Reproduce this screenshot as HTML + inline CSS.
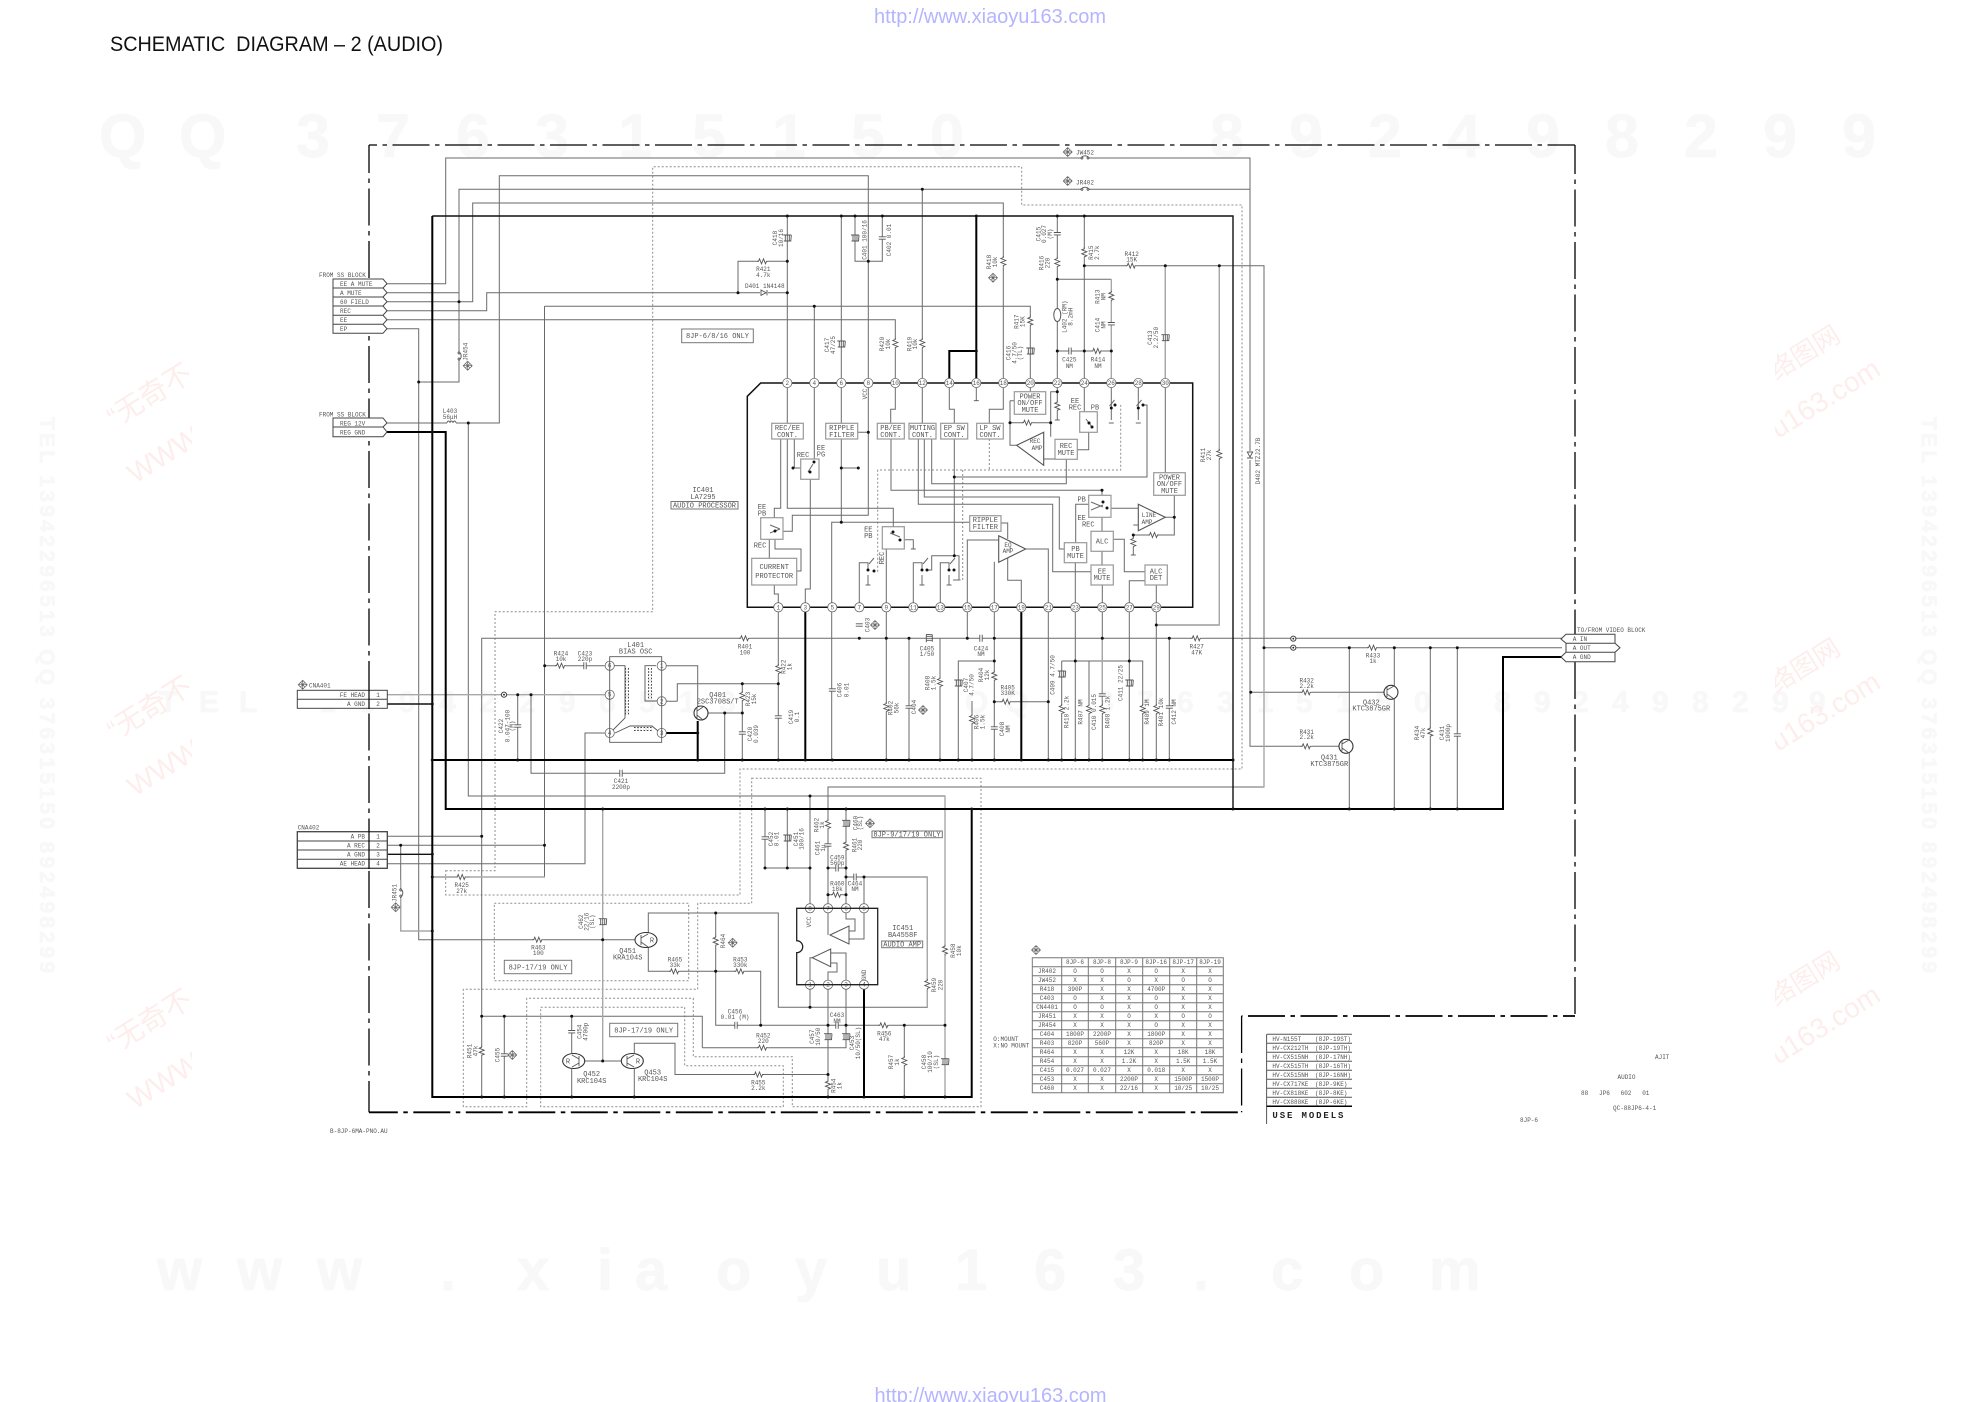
<!DOCTYPE html>
<html><head><meta charset="utf-8"><title>Schematic Diagram - 2 (Audio)</title>
<style>
html,body{margin:0;padding:0;background:#fff}
svg{display:block}
text{font-family:"Liberation Mono","Noto Sans CJK SC",monospace;fill:#555;stroke:none;font-size:6px}
.m text,text.m{font-size:7px}
.c text,text.c{text-anchor:middle}
.wm{font-family:"Liberation Sans",sans-serif;font-weight:bold;fill:#f8f8f8;stroke:#f8f8f8;stroke-width:.8}
.st{font-family:"Liberation Sans","Noto Sans CJK SC",sans-serif;fill:#fdeeec}
.url{font-family:"Liberation Sans",sans-serif;fill:#b4b4ff;font-size:20px}
.w{fill:none;stroke:#6a6a6a;stroke-width:1}
.l{fill:none;stroke:#a8a8a8;stroke-width:1.4}
.k{fill:none;stroke:#000;stroke-width:2}
.k1{fill:none;stroke:#111;stroke-width:1.4}
.d{fill:none;stroke:#8c8c8c;stroke-width:1;stroke-dasharray:2 2}
.b{fill:#fff;stroke:#999;stroke-width:1.2}
.bw{fill:none;stroke:#777;stroke-width:1}
.dots{fill:none;stroke:#111;stroke-width:3;stroke-linecap:round}
.sym{fill:none;stroke:#555;stroke-width:.9}
.gap{fill:none;stroke:#fff;stroke-width:3}
.fr{fill:none;stroke:#000;stroke-dasharray:37 5.5 4.5 5.5}
</style></head><body>
<svg xmlns="http://www.w3.org/2000/svg" width="1980" height="1402" viewBox="0 0 1980 1402">
<defs>
<g id="rh"><path class="gap" d="M-5 0H5"/><path class="sym" d="M-6 0h1.5l1-2.5 2 5 2-5 2 5 1-2.5h1.5"/></g>
<g id="rv"><path class="gap" d="M0-5V5"/><path class="sym" d="M0-6v1.5l-2.5 1 5 2-5 2 5 2-2.5 1v1.5"/></g>
<g id="cv"><path class="gap" d="M0-1V1"/><path class="sym" d="M-3.5-1.2h7M-3.5 1.2h7" stroke-width="1.1"/></g>
<g id="ch"><path class="gap" d="M-1 0H1"/><path class="sym" d="M-1.2-3.5v7M1.2-3.5v7" stroke-width="1.1"/></g>
<g id="ev"><path class="gap" d="M0-3V3"/><path class="sym" d="M-4-3h8M-3.5 3h7l.5-6M-2-3v6M0-3v6M2-3v6"/></g>
<g id="jh"><path class="gap" d="M-4 0H4"/><path class="sym" d="M-5 0h1M4 0h1"/><circle class="sym" cx="-3" r="1"/><circle class="sym" cx="3" r="1"/><path class="sym" d="M-3-1.3Q0-3 3-1.3"/></g>
<g id="s"><path fill="none" stroke="#666" stroke-width=".7" d="M0-4.5L4.5 0L0 4.5L-4.5 0ZM-2.3-2.3L2.3 2.3M2.3-2.3L-2.3 2.3M0-4.5V4.5M-4.5 0H4.5M-1.5-3.5L1.5-3.5M-1.5 3.5L1.5 3.5M-3.5-1.5V1.5M3.5-1.5V1.5"/></g>
<g id="gnd"><path class="sym" d="M-2.5 0h5" stroke-width="1.4"/></g>
<clipPath id="cl"><rect x="0" y="300" width="192" height="900"/></clipPath>
<clipPath id="cr"><rect x="1775" y="200" width="205" height="1000"/></clipPath>
</defs>

<!-- background watermarks -->
<text class="wm" style="font-size:61px" y="157" x="99 179 296 376 456 535 618 692 772 851 930">QQ376315150</text>
<text class="wm" style="font-size:61px" y="157" x="1210 1289 1368 1447 1526 1605 1684 1763 1842">892498299</text>
<text class="wm" style="font-size:30px" y="712" x="159 199 239 319 359 399 439 479 519 559 599 639 679 719 965 1005 1097 1137 1177 1217 1257 1296 1336 1375 1414 1494 1534 1572 1612 1652 1692 1732 1772 1809">TEL13942296513QQ376315150892498299</text>
<text class="wm" style="font-size:58px" y="1290" x="157 237 317 440 517 597 635 716 795 876 955 1034 1113 1193 1271 1349 1429">www.xiaoyu163.com</text>
<text class="wm" style="font-size:21px" transform="translate(40,417)rotate(90)" textLength="556">TEL 13942296513 QQ 376315150 892498299</text>
<text class="wm" style="font-size:21px" transform="translate(1922,417)rotate(90)" textLength="556">TEL 13942296513 QQ 376315150 892498299</text>
<g clip-path="url(#cl)">
<text class="st" style="font-size:28px" transform="translate(115,428)rotate(-32)">“无奇不</text><text class="st" style="font-size:28px" transform="translate(135,484)rotate(-32)">WWW</text>
<text class="st" style="font-size:28px" transform="translate(115,741)rotate(-32)">“无奇不</text><text class="st" style="font-size:28px" transform="translate(135,797)rotate(-32)">WWW</text>
<text class="st" style="font-size:28px" transform="translate(115,1054)rotate(-32)">“无奇不</text><text class="st" style="font-size:28px" transform="translate(135,1110)rotate(-32)">WWW</text>
</g>
<g clip-path="url(#cr)">
<text class="st" style="font-size:26px" transform="translate(1776,381)rotate(-32)">络图网</text><text class="st" style="font-size:28px" transform="translate(1778,439)rotate(-32)">u163.com</text>
<text class="st" style="font-size:26px" transform="translate(1776,694)rotate(-32)">络图网</text><text class="st" style="font-size:28px" transform="translate(1778,752)rotate(-32)">u163.com</text>
<text class="st" style="font-size:26px" transform="translate(1776,1007)rotate(-32)">络图网</text><text class="st" style="font-size:28px" transform="translate(1778,1065)rotate(-32)">u163.com</text>
</g>

<!-- header -->
<text x="874" y="23" class="url" textLength="232">http://www.xiaoyu163.com</text>
<text x="874.5" y="1402" class="url" textLength="232">http://www.xiaoyu163.com</text>
<text x="110" y="51" style="font-family:'Liberation Sans',sans-serif;font-size:21px;fill:#111" textLength="333" lengthAdjust="spacingAndGlyphs" xml:space="preserve">SCHEMATIC  DIAGRAM – 2 (AUDIO)</text>

<!-- outer frame -->
<path class="fr" stroke-width="1.3" stroke-dashoffset="29" d="M369 145H1575"/>
<path class="fr" stroke-width="1.3" stroke-dashoffset="8" d="M1575 145V1016"/>
<path class="fr" stroke-width="1.7" stroke-dashoffset="25" d="M1575 1016H1241.6"/>
<path class="fr" stroke-width="1.3" d="M1241.6 1016V1112.3"/>
<path class="fr" stroke-width="1.8" stroke-dashoffset="48.7" d="M1241.6 1112.3H369"/>
<path class="fr" stroke-width="1.3" stroke-dashoffset="9" d="M369 145V1112.3"/>

<!-- dashed option regions -->
<path class="d" d="M445.7 870.7H495V611.7H652.7V166.7H1021.7V205H1242V769H740V895H445.7Z"/>
<path class="d" d="M751.7 778.3H981V1106.7H792.3V1056.7H693.3V998.3H526.7V1106.7H463.3V989.3H697.7V903.3H751.7Z"/>
<path class="d" d="M540.7 1007.3H684.7V1065.7H783.3V1106.7H540.7Z"/>
<path class="d" d="M494.3 903.3H688.7V980.7H494.3Z"/>
<path class="d" d="M989.3 439V470M877.7 571.7V470H1120.7V405M962.7 470V580H955"/>

<!-- thin wires -->
<path class="w" d="M387 283.7H445.7V158H1250V746.3H1339M387 292.7H459V189.3H1250M459 292.7V382H418.7M387 328.7H418.7V939.7H635M387 301.7H472.7V203H1003.3V409.3H989.3V423M387 310.7H486.7V292.7H787.3M387 319.7H895.3V409.3H890.7V423.3M544.5 306.3H1030.3V391.7M544.5 306.3V877H432.3M814.3 306.3V462L810.3 472V589H805.3V607M387 423H499.3V175.7H868.3V515.3H792.3V531.3H775M468.3 423V796H945V1097M787.3 216V423.3M738 292.7V261.3H787.3M841.3 216V423.3M841.3 439V522.3M855 216V261.3H882.3V216M922.3 189.3V423.3M841.3 468H858.3M868.3 432.3H857.7M1057.3 216V391.7H1050.7V436.7M1084.3 216V411.7M1057.3 279.3H1111.3M1084.3 265.7H1264V787H828V868M1165.3 265.7V472.7M1219.3 265.7V625H1156.3M1057.3 351H1111.3M1057.3 391.7V420M949.3 383V409.3H954.3V423M954.3 439V555.7H931.7V570H926M954.3 555.7H959V580H953M954.3 477H1147V405H1143M976.3 383V400.7M1010 422.7H1050.7M1010 400.7H1014.3M1010 400.7V445.3H1016.7M1043.7 459H1055M1077.3 449.7H1088.7V432M1111.3 383V420M1138.3 383V420M1174.3 495.3V535H1133.3V555M1133.3 525H1138.3M1107 508.3H1138.3M1165.3 517.3H1174.3"/>
<path class="w" d="M891 439V490.3H1102V495.3M918.3 439V504.3H1052.7V571.7H1091M924.3 439V497H1059.3V549H1064.3M931.7 439V483.7H1066.3V459.3M1088.7 504.3H1075.7V542.7M1102 517.3V531.3M1102 551.3V565M1102.3 585V760M1075.3 562.7V760M1113.3 539.3H1124.3V571.7H1145M1156.3 585V760M1145 580.7H1129.3V760M1025.7 549H1048.3V760M998.7 540H967.3V638.3M1007.7 558V580.3H1021.3V607M994.3 561.7V760M1001 523H1007.7V539M969.7 522.3H831.7V760M780.7 439V508.3H774.3V517.7M787.3 439V508.3H893.3V532M794.3 439V468H800.7M769.3 539.3V558.3M775 539.3V549H801V571H796.7M774.3 585V594H778.3V760M886.3 549V760M859.3 607V562.7H868V570M913.3 607V562.7H922V570M940.3 607V562.7H949V570M904 539.7H913.3V549M868 575V585M922 575V585M949 575V585"/>
<path class="w" d="M481.7 1097V638.3H1562M387 836.3H481.7M387 845.3H544.5M387 863.7H585V733H604.9M400.7 845.3V931H432.3M517.7 694.7V760M531 694.7V773.3H724.7V713H701M724.7 713H742.3M742.3 683.7V760M677.3 701.3V683.7H778.3M677.3 701.3H666.5M666.5 665.7H697.7V708M544.7 665.7H604.9M909 638.3V760M940 638.3V760M994.3 661H958.3V760M994.3 701.7H1048.3M1061.7 661H1142.7V760M1061.7 661V760M1089 661V760M1169.3 638.3V760M1250.7 692.3H1384M1264 647.7H1562M1349.3 647.7V809M1394.3 647.7V809M1430.3 647.7V809M1457.3 647.7V809M972 701V760M648.3 933V913H778.3V1007.3H927.3V877H846M648.3 947V971.3H760.7V1025.3M715.7 913V1025.3H760.7M760.7 1025.3H945M702.3 1047.7H846V984.7M702.3 1047.7V1016.3H481.7M571.7 1016.3V1053M571.7 1069V1097M504.3 1016.3V1097M634.3 1053V1043.3H675V1074.5H828M634.3 1069V1097M585 1061H621M810 796V908.3M810 1007.3V984.7M828 908.3V868H846M846 809V908.3M864 877V908.3M828 984.7V1097M904.3 1025.3V1097M765 809V868H810M787.3 809V868M828 894.7H846M828 935V908.3M846 908.3V919H855V931H849M864 908.3V939H849M810 984.7V957.7H812.3M846 984.7V953H830.7M828 984.7V972H837V963H830.7"/>
<!-- lighter wires -->
<path class="l" d="M387 694.7H604.9M1111.3 279.3V383M1165.3 265.7V383M1219.3 265.7V625M602.7 809V1061M400.7 880V931H432.3M1264 787V647.7M927.3 877V1007M945 796V1097M544.7 877H470M1102.3 638V700"/>

<!-- heavy rails -->
<path class="k1" d="M432.3 216H1233V809M387 854.3H432.3M387 704H432.3"/>
<path class="k" d="M432.3 216V1097H971.7V809M432.3 760H1233M387 432H445.7V809H1503V657H1562M949.3 383V351H976.3M976.3 216V383M805.3 607V760M1021.3 607V760M864 984.7V1097M661.7 733H697.7M697.7 721V760"/>

<!-- component symbols -->
<g>
<use href="#rh" x="763" y="261.3"/><use href="#rh" x="1131.7" y="265.7"/><use href="#rh" x="1097.3" y="351"/><use href="#rh" x="1028" y="422.7"/><use href="#rh" x="1154" y="535"/><use href="#rh" x="745" y="638.3"/><use href="#rh" x="1196.7" y="638.3"/><use href="#rh" x="561" y="665.7"/><use href="#rh" x="461.7" y="877"/><use href="#rh" x="1006.7" y="701.7"/><use href="#rh" x="1373" y="647.7"/><use href="#rh" x="1306.7" y="692.3"/><use href="#rh" x="1306.7" y="746.3"/><use href="#rh" x="538.3" y="939.7"/><use href="#rh" x="675" y="971.3"/><use href="#rh" x="740.3" y="971.3"/><use href="#rh" x="763" y="1047.7"/><use href="#rh" x="759" y="1074.5"/><use href="#rh" x="884.3" y="1025.3"/><use href="#rh" x="837" y="894.7"/>
<use href="#rv" x="895.3" y="344"/><use href="#rv" x="922.3" y="344"/><use href="#rv" x="1003.3" y="262"/><use href="#rv" x="1030.3" y="321.7"/><use href="#rv" x="1057.3" y="263"/><use href="#rv" x="1084.3" y="253.3"/><use href="#rv" x="1111.3" y="296.7"/><use href="#rv" x="1219.3" y="455"/><use href="#rv" x="1057.3" y="406.7"/><use href="#rv" x="1133.3" y="543"/><use href="#rv" x="778.3" y="670"/><use href="#rv" x="742.3" y="697"/><use href="#rv" x="940" y="683"/><use href="#rv" x="994.3" y="676.7"/><use href="#rv" x="886.3" y="708"/><use href="#rv" x="972" y="720"/><use href="#rv" x="1061.7" y="710"/><use href="#rv" x="1089" y="710"/><use href="#rv" x="1102.3" y="710"/><use href="#rv" x="1142.7" y="710"/><use href="#rv" x="1156.3" y="710"/><use href="#rv" x="1430.3" y="732.7"/><use href="#rv" x="715.7" y="941.7"/><use href="#rv" x="481.7" y="1051.7"/><use href="#rv" x="828" y="825"/><use href="#rv" x="846" y="846.7"/><use href="#rv" x="945" y="950.7"/><use href="#rv" x="927.3" y="985"/><use href="#rv" x="904.3" y="1062"/><use href="#rv" x="828" y="1085.7"/>
<use href="#cv" x="882.3" y="238"/><use href="#cv" x="1057.3" y="233.7"/><use href="#cv" x="1111.3" y="323.7"/><use href="#cv" x="859.3" y="625"/><use href="#cv" x="832.3" y="690"/><use href="#cv" x="909" y="707"/><use href="#cv" x="778.3" y="717"/><use href="#cv" x="742.3" y="733"/><use href="#cv" x="517.7" y="726"/><use href="#cv" x="994.3" y="728"/><use href="#cv" x="1102.3" y="695"/><use href="#cv" x="1169.3" y="707"/><use href="#cv" x="1457.3" y="735"/><use href="#cv" x="571.7" y="1031.7"/><use href="#cv" x="504.3" y="1055"/><use href="#cv" x="765" y="838"/><use href="#cv" x="828" y="845"/>
<use href="#ch" x="1070" y="351"/><use href="#ch" x="981" y="638.3"/><use href="#ch" x="585" y="665.7"/><use href="#ch" x="621" y="773.3"/><use href="#ch" x="736" y="1025.3"/><use href="#ch" x="837" y="868"/><use href="#ch" x="855" y="877"/><use href="#ch" x="837" y="1025.3"/>
<use href="#ev" x="787.3" y="238"/><use href="#ev" x="855" y="238"/><use href="#ev" x="841.3" y="344"/><use href="#ev" x="1030.3" y="351"/><use href="#ev" x="1165.3" y="337.7"/><use href="#ev" x="958.3" y="683"/><use href="#ev" x="1061.7" y="674"/><use href="#ev" x="1129.3" y="683"/><use href="#ev" x="602.7" y="921.7"/><use href="#ev" x="787.3" y="838"/><use href="#ev" x="846" y="823.3"/><use href="#ev" x="828" y="1036.7"/><use href="#ev" x="846" y="1036.7"/><use href="#ev" x="945" y="1061.7"/>
<g transform="translate(929.3,638.3)rotate(-90)"><use href="#ev"/></g>
<use href="#jh" x="1085" y="158"/><use href="#jh" x="1085" y="189.3"/>
<g transform="translate(459,356)rotate(90)"><use href="#jh"/></g><g transform="translate(400.7,893)rotate(90)"><use href="#jh"/></g>
<!-- diodes / coils -->
<path class="gap" d="M760 292.7H768"/><path class="sym" d="M761 290v5.4l5-2.7zM767 290v5.4" fill="#333"/>
<path class="gap" d="M1250 451V460"/><path class="sym" d="M1247.3 452h5.4l-2.7 5zM1247 458h6" fill="#333"/>
<ellipse cx="1057.3" cy="315" rx="3.5" ry="6.5" fill="#fff" stroke="#555"/>
<path class="gap" d="M447 423H456"/><path class="sym" d="M447 423a1.5 2 0 0 1 3 0a1.5 2 0 0 1 3 0a1.5 2 0 0 1 3 0"/>
<circle cx="504" cy="694.7" r="2.6" fill="#fff" stroke="#444"/><circle cx="504" cy="694.7" r=".9" fill="#222"/><circle cx="1293.3" cy="638.7" r="2.6" fill="#fff" stroke="#444"/><circle cx="1293.3" cy="638.7" r=".9" fill="#222"/><circle cx="1293.3" cy="647.7" r="2.6" fill="#fff" stroke="#444"/><circle cx="1293.3" cy="647.7" r=".9" fill="#222"/>
<use href="#s" x="467.7" y="365.7"/><use href="#s" x="1067.7" y="152"/><use href="#s" x="1067.7" y="181"/><use href="#s" x="993" y="277.7"/><use href="#s" x="875" y="625"/><use href="#s" x="923" y="710"/><use href="#s" x="302.7" y="684.7"/><use href="#s" x="395.7" y="907.3"/><use href="#s" x="732.7" y="942.7"/><use href="#s" x="512.3" y="1055"/><use href="#s" x="870" y="823.3"/><use href="#s" x="1036" y="950"/>
</g>

<!-- IC401 body -->
<path d="M747.3 396.3L760.7 383H1192.7V607.3H747.3Z" fill="none" stroke="#111" stroke-width="1.5"/>
<g class="b">
<rect class="b" x="771.7" y="423.3" width="31.6" height="15.7"/><rect class="b" x="825.7" y="423.3" width="32" height="15.7"/><rect class="b" x="877.3" y="423.3" width="27" height="15.7"/><rect class="b" x="909" y="423.3" width="27" height="15.7"/><rect class="b" x="940.7" y="423.3" width="27" height="15.7"/><rect class="b" x="976.7" y="423.3" width="26.6" height="15.7"/>
<rect class="b" x="1014.3" y="391.7" width="31.4" height="22.6"/><rect class="b" x="1055" y="439.3" width="22.3" height="20"/><rect class="b" x="1079.7" y="411.7" width="17.6" height="20.6"/><rect class="b" x="800.7" y="459" width="18.3" height="20.3"/><rect class="b" x="1153.7" y="472.7" width="31.6" height="22.6"/><rect class="b" x="1088.7" y="495.3" width="22.3" height="22"/><rect class="b" x="969.7" y="515.7" width="31.3" height="15.6"/><rect class="b" x="1091" y="531.3" width="22.3" height="20"/><rect class="b" x="1064.3" y="542.7" width="22.4" height="20"/><rect class="b" x="1091" y="565" width="22.3" height="20"/><rect class="b" x="1145" y="565" width="22.3" height="20"/><rect class="b" x="751.7" y="558.3" width="45" height="26.7"/><rect class="b" x="760.7" y="517.7" width="22.3" height="21.6"/><rect class="b" x="882.3" y="526.7" width="22" height="22.3"/>
</g>
<!-- op amps -->
<path d="M1016.7 445.3L1043.7 432.3V465.3Z" fill="#fff" stroke="#555" stroke-width="1.1"/>
<path d="M1165.3 517.3L1138.3 504.3V530.7Z" fill="#fff" stroke="#555" stroke-width="1.1"/>
<path d="M1025.7 549L998.7 535.7V562.3Z" fill="#fff" stroke="#555" stroke-width="1.1"/>
<!-- switches -->
<path class="w" d="M1114.5 400l-5 6M1141.5 400l-5 6M869 564l5-6M923 564l5-6M950 564l5-6M1086 419l6 8M1103 505l-12 5M1103 507l-12-5M808 472l5-8M770 525l10 4M770 533l10-4M890 533l10 4"/>
<g class="dots" stroke-width="2.4"><path d="M1111.3 408h0M1138.3 408h0M1115 405h0M1143 405h0M868 570h0M922 570h0M949 570h0M874 571h0M927 570h0M954 570h0M1089 423h0M1092 427h0M1107 508h0M1103 502h0M814 462h0M810 472h0M793 468h0M775 531h0M893 532h0M900 540h0"/></g>
<g><use href="#gnd" x="976.3" y="400.7"/><use href="#gnd" x="1057.3" y="420"/><use href="#gnd" x="1111.3" y="423"/><use href="#gnd" x="1138.3" y="423"/><use href="#gnd" x="1133.3" y="555"/><use href="#gnd" x="868" y="585"/><use href="#gnd" x="922" y="585"/><use href="#gnd" x="949" y="585"/><use href="#gnd" x="913.3" y="549"/></g>

<!-- pins -->
<path d="M787.3 383h0M814.3 383h0M841.3 383h0M868.3 383h0M895.3 383h0M922.3 383h0M949.3 383h0M976.3 383h0M1003.3 383h0M1030.3 383h0M1057.3 383h0M1084.3 383h0M1111.3 383h0M1138.3 383h0M1165.3 383h0M778.3 607.3h0M805.3 607.3h0M832.3 607.3h0M859.3 607.3h0M886.3 607.3h0M913.3 607.3h0M940.3 607.3h0M967.3 607.3h0M994.3 607.3h0M1021.3 607.3h0M1048.3 607.3h0M1075.3 607.3h0M1102.3 607.3h0M1129.3 607.3h0M1156.3 607.3h0M609.7 665.7h0M609.7 694.7h0M609.7 733h0M661.7 665.7h0M661.7 701.3h0M661.7 733h0M810 908.3h0M828 908.3h0M846 908.3h0M864 908.3h0M810 984.7h0M828 984.7h0M846 984.7h0M864 984.7h0" fill="none" stroke="#666" stroke-width="10" stroke-linecap="round"/>
<path d="M787.3 383h0M814.3 383h0M841.3 383h0M868.3 383h0M895.3 383h0M922.3 383h0M949.3 383h0M976.3 383h0M1003.3 383h0M1030.3 383h0M1057.3 383h0M1084.3 383h0M1111.3 383h0M1138.3 383h0M1165.3 383h0M778.3 607.3h0M805.3 607.3h0M832.3 607.3h0M859.3 607.3h0M886.3 607.3h0M913.3 607.3h0M940.3 607.3h0M967.3 607.3h0M994.3 607.3h0M1021.3 607.3h0M1048.3 607.3h0M1075.3 607.3h0M1102.3 607.3h0M1129.3 607.3h0M1156.3 607.3h0M609.7 665.7h0M609.7 694.7h0M609.7 733h0M661.7 665.7h0M661.7 701.3h0M661.7 733h0M810 908.3h0M828 908.3h0M846 908.3h0M864 908.3h0M810 984.7h0M828 984.7h0M846 984.7h0M864 984.7h0" fill="none" stroke="#fff" stroke-width="8.4" stroke-linecap="round"/>
<g class="c">
<text x="787.3" y="385">2</text><text x="814.3" y="385">4</text><text x="841.3" y="385">6</text><text x="868.3" y="385">8</text><text x="895.3" y="385">10</text><text x="922.3" y="385">12</text><text x="949.3" y="385">14</text><text x="976.3" y="385">16</text><text x="1003.3" y="385">18</text><text x="1030.3" y="385">20</text><text x="1057.3" y="385">22</text><text x="1084.3" y="385">24</text><text x="1111.3" y="385">26</text><text x="1138.3" y="385">28</text><text x="1165.3" y="385">30</text>
<text x="778.3" y="609.3">1</text><text x="805.3" y="609.3">3</text><text x="832.3" y="609.3">5</text><text x="859.3" y="609.3">7</text><text x="886.3" y="609.3">9</text><text x="913.3" y="609.3">11</text><text x="940.3" y="609.3">13</text><text x="967.3" y="609.3">15</text><text x="994.3" y="609.3">17</text><text x="1021.3" y="609.3">19</text><text x="1048.3" y="609.3">21</text><text x="1075.3" y="609.3">23</text><text x="1102.3" y="609.3">25</text><text x="1129.3" y="609.3">27</text><text x="1156.3" y="609.3">29</text>
<text x="609.7" y="667.7">6</text><text x="609.7" y="696.7">5</text><text x="609.7" y="735">4</text><text x="661.7" y="667.7">1</text><text x="661.7" y="703.3">2</text><text x="661.7" y="735">3</text>
<text x="810" y="910.3">8</text><text x="828" y="910.3">7</text><text x="846" y="910.3">6</text><text x="864" y="910.3">5</text><text x="810" y="986.7">1</text><text x="828" y="986.7">2</text><text x="846" y="986.7">3</text><text x="864" y="986.7">4</text>
</g>

<!-- L401 transformer -->
<path class="sym" d="M609.7 661V656.7H661.7V661M609.7 738V742.3H661.7V738M609.7 661V738M661.7 661V738M614 665.7H625V718L613 730M656 665.7H645V701H657M615 733L630 726H652L658 731"/>
<path d="M627 668V716M650 668V699M634 729H652" fill="none" stroke="#444" stroke-width="4" stroke-dasharray="1.6 1.6"/>
<path d="M627 668V716M650 668V699M634 729H652" fill="none" stroke="#fff" stroke-width="2" stroke-dasharray="1.6 1.6"/>

<!-- IC451 -->
<path d="M796.7 940.7V908.3H877.7V984.7H796.7V952.7A6 6 0 0 0 796.7 940.7Z" fill="none" stroke="#222" stroke-width="1.3"/>
<path d="M830 935L849 926V944Z M812.3 957.7L830.7 949V966.7Z" fill="#fff" stroke="#555"/>

<!-- transistors -->
<g fill="#fff" stroke="#333" stroke-width="1.1">
<circle cx="701" cy="713" r="7"/><circle cx="1346" cy="746.3" r="7"/><circle cx="1391" cy="692.3" r="7"/>
<ellipse cx="646" cy="940" rx="11" ry="7.5"/><ellipse cx="573.7" cy="1061" rx="11" ry="7.5"/><ellipse cx="632.3" cy="1061" rx="11" ry="7.5"/>
</g>
<path class="sym" d="M697 708V718M697 711L703 707M697 715L703 720M1342 741V751M1342 744L1349 740M1342 748L1349 753M1387 687V697M1387 690L1394 686M1387 694L1394 699M641 935V945M641 938L648 934M641 942L648 947M579 1056V1066M579 1059L572 1055M579 1063L572 1067M627 1056V1066M627 1059L634 1055M627 1063L634 1067"/>
<g class="m c"><text x="652" y="942.5">R</text><text x="568" y="1063.5">R</text><text x="638" y="1063.5">R</text></g>

<!-- junction dots -->
<path class="dots" d="M432.3 432h0M432.3 704h0M432.3 760h0M432.3 854.3h0M432.3 877h0M432.3 931h0M459 301.7h0M418.7 382h0M468.3 423h0M738 292.7h0M787.3 292.7h0M787.3 261.3h0M787.3 216h0M841.3 216h0M855 216h0M882.3 216h0M868.3 261.3h0M922.3 189.3h0M814.3 306.3h0M976.3 216h0M976.3 351h0M1057.3 216h0M1084.3 216h0M1057.3 279.3h0M1057.3 351h0M1084.3 351h0M1111.3 351h0M1084.3 265.7h0M1165.3 265.7h0M1219.3 265.7h0M1156.3 625h0M859.3 638.3h0M886.3 638.3h0M909 638.3h0M967.3 638.3h0M994.3 638.3h0M1102.3 638.3h0M1169.3 638.3h0M994.3 661h0M994.3 701.7h0M1048.3 701.7h0M1075.3 661h0M1129.3 661h0M1102 490.3h0M954.3 477h0M954.3 555.7h0M868.3 432.3h0M841.3 468h0M858.3 468h0M841.3 522.3h0M1057.3 391.7h0M1050.7 422.7h0M1010 422.7h0M1174.3 517.3h0M1133.3 535h0M1233 760h0M1233 809h0M1349.3 809h0M1394.3 809h0M1430.3 809h0M1457.3 809h0M1349.3 647.7h0M1394.3 647.7h0M1430.3 647.7h0M1457.3 647.7h0M1264 647.7h0M1250.7 692.3h0M517.7 694.7h0M531 694.7h0M517.7 760h0M697.7 733h0M697.7 760h0M742.3 683.7h0M742.3 713h0M724.7 713h0M742.3 760h0M778.3 683.7h0M778.3 760h0M805.3 760h0M832.3 760h0M886.3 760h0M909 760h0M940 760h0M958.3 760h0M972 760h0M994.3 760h0M1021.3 760h0M1048.3 760h0M1061.7 760h0M1075.3 760h0M1089 760h0M1102.3 760h0M1129.3 760h0M1142.7 760h0M1156.3 760h0M1169.3 760h0M544.7 665.7h0M481.7 836.3h0M544.5 845.3h0M400.7 845.3h0M602.7 809h0M765 809h0M787.3 809h0M846 809h0M971.7 809h0M602.7 939.7h0M602.7 1061h0M715.7 913h0M715.7 971.3h0M760.7 1025.3h0M481.7 1016.3h0M504.3 1016.3h0M571.7 1016.3h0M481.7 1097h0M504.3 1097h0M571.7 1097h0M634.3 1097h0M828 1097h0M864 1097h0M904.3 1097h0M945 1097h0M810 796h0M828 868h0M846 868h0M787.3 868h0M765 868h0M810 868h0M846 877h0M864 877h0M828 894.7h0M846 894.7h0M810 1007.3h0M828 1025.3h0M846 1025.3h0M904.3 1025.3h0M945 1025.3h0M828 1074.5h0"/>

<!-- left connectors -->
<g fill="#fff" stroke="#444" stroke-width="1">
<path d="M333 279H383L387 283.7L383 288H333ZM333 288H383L387 292.7L383 297H333ZM333 297H383L387 301.7L383 306H333ZM333 306H383L387 310.7L383 315.3H333ZM333 315.3H383L387 319.7L383 324.3H333ZM333 324.3H383L387 328.7L383 333.3H333ZM333 418H383L387 423L383 427H333ZM333 427H383L387 432L383 436.7H333Z"/>
<rect x="297.3" y="690.3" width="90" height="18"/><path d="M297.3 699.3H387.3"/>
<rect x="297.3" y="831.7" width="90" height="36.6" stroke-width="1.3"/><path d="M297.3 841H387.3M297.3 850H387.3M297.3 859.3H387.3"/>
</g>
<path d="M369 690V709M369 831V869" stroke="#000" stroke-width="1.2"/>
<!-- right connector -->
<g fill="#fff" stroke="#444" stroke-width="1"><path d="M1561 639L1566 634.3H1615V643.3H1566ZM1566 643.3H1615L1620 647.8L1615 652.3H1566ZM1561 657L1566 652.3H1615V661.7H1566Z"/></g>
<g>
<text x="319" y="277">FROM SS BLOCK</text><text x="319" y="416.5">FROM SS BLOCK</text>
<text x="340" y="286">EE A MUTE</text><text x="340" y="295">A MUTE</text><text x="340" y="304">60 FIELD</text><text x="340" y="313">REC</text><text x="340" y="322">EE</text><text x="340" y="331">EP</text><text x="340" y="425.5">REG 12V</text><text x="340" y="434.5">REG GND</text>
<text x="309" y="687.5">CNA401</text><text x="297.7" y="829.5">CNA402</text>
<text x="1577" y="632">TO/FROM VIDEO BLOCK</text><text x="1572.7" y="641">A IN</text><text x="1572.7" y="650">A OUT</text><text x="1572.7" y="659">A GND</text>
</g>
<g>
<text x="365" y="697" text-anchor="end">FE HEAD</text><text x="365" y="706" text-anchor="end">A GND</text><text x="365" y="838.5" text-anchor="end">A PB</text><text x="365" y="847.5" text-anchor="end">A REC</text><text x="365" y="856.5" text-anchor="end">A GND</text><text x="365" y="865.5" text-anchor="end">AE HEAD</text>
</g>
<g class="c"><text x="378" y="697">1</text><text x="378" y="706">2</text><text x="378" y="838.5">1</text><text x="378" y="847.5">2</text><text x="378" y="856.5">3</text><text x="378" y="865.5">4</text></g>

<!-- IC401 labels -->
<g class="m c">
<text x="787.5" y="430">REC/EE</text><text x="787.5" y="437">CONT.</text><text x="841.7" y="430">RIPPLE</text><text x="841.7" y="437">FILTER</text><text x="890.8" y="430">PB/EE</text><text x="890.8" y="437">CONT.</text><text x="922.5" y="430">MUTING</text><text x="922.5" y="437">CONT.</text><text x="954.2" y="430">EP SW</text><text x="954.2" y="437">CONT.</text><text x="990" y="430">LP SW</text><text x="990" y="437">CONT.</text>
<text x="1030" y="398.5">POWER</text><text x="1030" y="405">ON/OFF</text><text x="1030" y="412">MUTE</text>
<text x="1169.5" y="479.5">POWER</text><text x="1169.5" y="486">ON/OFF</text><text x="1169.5" y="493">MUTE</text>
<text x="1066" y="448">REC</text><text x="1066" y="455">MUTE</text><text x="985.3" y="522">RIPPLE</text><text x="985.3" y="529">FILTER</text><text x="1102" y="543.5">ALC</text><text x="1075.5" y="551">PB</text><text x="1075.5" y="558">MUTE</text><text x="1102" y="573.5">EE</text><text x="1102" y="580">MUTE</text><text x="1156" y="573.5">ALC</text><text x="1156" y="580">DET</text>
<text x="774.2" y="569">CURRENT</text><text x="774.2" y="578">PROTECTOR</text>
<text x="762" y="509">EE</text><text x="762" y="515.5">PB</text><text x="760" y="547.5">REC</text><text x="803" y="457">REC</text><text x="821" y="450">EE</text><text x="821" y="456.5">PG</text><text x="1075" y="403">EE</text><text x="1075" y="409.5">REC</text><text x="1095" y="409.5">PB</text><text x="868.3" y="531.5">EE</text><text x="868.3" y="538">PB</text><text x="1081.7" y="501.5">PB</text><text x="1081.7" y="520">EE</text><text x="1088.3" y="526.5">REC</text>
</g>
<g class="c"><text x="1035" y="443">REC</text><text x="1037" y="450">AMP</text><text x="1149" y="517">LINE</text><text x="1147" y="524">AMP</text><text x="1008" y="547">EQ</text><text x="1008" y="553">AMP</text></g>
<text class="m c" transform="translate(884,558)rotate(-90)">REC</text>
<text class="c" transform="translate(867,394)rotate(-90)">VCC</text>
<g class="m c"><text x="703" y="492">IC401</text><text x="703" y="499">LA7295</text><text x="704.5" y="507.5">AUDIO PROCESSOR</text></g>
<rect x="671" y="501.5" width="67" height="7.5" class="bw"/>
<text class="m c" x="717.5" y="338">8JP-6/8/16 ONLY</text><rect x="681.7" y="329" width="71.6" height="13.7" class="bw"/>
<text class="m c" x="538" y="969.5">8JP-17/19 ONLY</text><rect x="504.3" y="960.3" width="67.4" height="13.4" class="bw"/>
<text class="m c" x="643.7" y="1032.5">8JP-17/19 ONLY</text><rect x="609.7" y="1023.3" width="68" height="13.4" class="bw"/>
<text class="m c" x="907" y="836.5">8JP-9/17/19 ONLY</text><rect x="872" y="831" width="70.3" height="6.7" class="bw"/>
<g class="m c"><text x="902.7" y="930">IC451</text><text x="902.7" y="937">BA4558F</text><text x="902.2" y="946.7">AUDIO AMP</text></g><rect x="881.7" y="941" width="41" height="6.7" class="bw"/>

<!-- horizontal component labels -->
<g class="c">
<text x="763.3" y="271">R421</text><text x="763.3" y="277">4.7k</text><text x="450" y="413">L403</text><text x="450" y="419">56μH</text><text x="1131.7" y="256">R412</text><text x="1131.7" y="261.5">15K</text><text x="1069.3" y="361.5">C425</text><text x="1069.3" y="368">NM</text><text x="1098" y="361.5">R414</text><text x="1098" y="368">NM</text>
<text x="745" y="648.7">R401</text><text x="745" y="654.5">100</text><text x="1196.7" y="648.7">R427</text><text x="1196.7" y="654.5">47K</text><text x="927" y="650.3">C405</text><text x="927" y="656">1/50</text><text x="981" y="650.3">C424</text><text x="981" y="656">NM</text><text x="1007.7" y="689.3">R405</text><text x="1007.7" y="695">330K</text>
<text x="561" y="655.5">R424</text><text x="561" y="661">10k</text><text x="585" y="655.5">C423</text><text x="585" y="661">220p</text><text x="621" y="783">C421</text><text x="621" y="789">2200p</text><text x="461.7" y="887">R425</text><text x="461.7" y="893">27k</text>
<text x="1306.7" y="682.7">R432</text><text x="1306.7" y="688">2.2k</text><text x="1306.7" y="734">R431</text><text x="1306.7" y="739">2.2k</text><text x="1373" y="657.7">R433</text><text x="1373" y="663">1k</text>
<text x="538.3" y="949.7">R463</text><text x="538.3" y="955">100</text><text x="675" y="961.3">R465</text><text x="675" y="967">33k</text><text x="740.3" y="961.3">R453</text><text x="740.3" y="967">330k</text><text x="735" y="1013.7">C456</text><text x="735" y="1019">0.01 (M)</text><text x="763.3" y="1037.7">R452</text><text x="763.3" y="1043">220</text><text x="758.3" y="1084.7">R455</text><text x="758.3" y="1090">2.2k</text><text x="884.3" y="1035.3">R456</text><text x="884.3" y="1041">47k</text><text x="837" y="1017">C463</text><text x="837" y="1023">NM</text><text x="837.3" y="859.3">C459</text><text x="837.3" y="865">560p</text><text x="837.3" y="885.7">R460</text><text x="837.3" y="891">18k</text><text x="855" y="885.7">C464</text><text x="855" y="891">NM</text>
</g>
<g class="m c"><text x="635.7" y="647">L401</text><text x="635.7" y="653.7">BIAS OSC</text><text x="717.7" y="697">Q401</text><text x="717.7" y="703.7">2SC3708S/T</text><text x="1329.3" y="759.7">Q431</text><text x="1329.3" y="766">KTC3875GR</text><text x="1371.3" y="704.3">Q432</text><text x="1371.3" y="710.7">KTC3875GR</text><text x="627.7" y="953">Q451</text><text x="627.7" y="959.7">KRA104S</text><text x="591.7" y="1076">Q452</text><text x="591.7" y="1083">KRC104S</text><text x="652.7" y="1074.7">Q453</text><text x="652.7" y="1081">KRC104S</text></g>
<text x="745" y="288">D401 1N4148</text>
<text x="1076" y="154.7">JW452</text><text x="1076" y="184.3">JR402</text>

<!-- rotated labels -->
<g class="c">
<text transform="translate(777,238)rotate(-90)">C418</text><text transform="translate(783,238)rotate(-90)">10/16</text>
<text transform="translate(866.5,240)rotate(-90)">C401 100/16</text><text transform="translate(891,240)rotate(-90)">C402 0.01</text>
<text transform="translate(829,345)rotate(-90)">C417</text><text transform="translate(835,345)rotate(-90)">47/25</text>
<text transform="translate(884,344)rotate(-90)">R420</text><text transform="translate(890,344)rotate(-90)">10k</text>
<text transform="translate(911.5,344)rotate(-90)">R419</text><text transform="translate(917,344)rotate(-90)">10k</text>
<text transform="translate(991,262)rotate(-90)">R418</text><text transform="translate(997,262)rotate(-90)">10k</text>
<text transform="translate(1018.5,321.7)rotate(-90)">R417</text><text transform="translate(1024.5,321.7)rotate(-90)">15K</text>
<text transform="translate(1010.5,353)rotate(-90)">C416</text><text transform="translate(1016.5,353)rotate(-90)">4.7/50</text><text transform="translate(1022,353)rotate(-90)">(TL)</text>
<text transform="translate(1040.5,234)rotate(-90)">C415</text><text transform="translate(1046,234)rotate(-90)">0.027</text><text transform="translate(1052,234)rotate(-90)">(M)</text>
<text transform="translate(1043.5,263)rotate(-90)">R416</text><text transform="translate(1049.5,263)rotate(-90)">220</text>
<text transform="translate(1093,252.7)rotate(-90)">R415</text><text transform="translate(1099,252.7)rotate(-90)">2.7k</text>
<text transform="translate(1066.5,316.7)rotate(-90)">L402 (RM)</text><text transform="translate(1072.5,316.7)rotate(-90)">8.2mH</text>
<text transform="translate(1099.5,296.7)rotate(-90)">R413</text><text transform="translate(1105.5,296.7)rotate(-90)">NM</text>
<text transform="translate(1099.5,325)rotate(-90)">C414</text><text transform="translate(1105.5,325)rotate(-90)">NM</text>
<text transform="translate(1152,337.7)rotate(-90)">C413</text><text transform="translate(1158,337.7)rotate(-90)">2.2/50</text>
<text transform="translate(1205,455)rotate(-90)">R411</text><text transform="translate(1211,455)rotate(-90)">27k</text>
<text transform="translate(1260,461)rotate(-90)">D402 MTZJ2.7B</text>
<text transform="translate(467.5,351.7)rotate(-90)">JR454</text>
<text transform="translate(869.5,625)rotate(-90)">C403</text>
<text transform="translate(785.5,666.7)rotate(-90)">R422</text><text transform="translate(791.5,666.7)rotate(-90)">1k</text>
<text transform="translate(793,717)rotate(-90)">C419</text><text transform="translate(799,717)rotate(-90)">0.1</text>
<text transform="translate(750,699)rotate(-90)">R423</text><text transform="translate(756,699)rotate(-90)">15k</text>
<text transform="translate(752,734)rotate(-90)">C420</text><text transform="translate(758,734)rotate(-90)">0.039</text>
<text transform="translate(503,726)rotate(-90)">C422</text><text transform="translate(509.5,726)rotate(-90)">0.047-100</text><text transform="translate(514,726)rotate(-90)">(M)</text>
<text transform="translate(841.5,690)rotate(-90)">C406</text><text transform="translate(848.5,690)rotate(-90)">0.01</text>
<text transform="translate(892.5,708)rotate(-90)">R402</text><text transform="translate(898.5,708)rotate(-90)">56k</text>
<text transform="translate(916,707)rotate(-90)">C404</text>
<text transform="translate(929.5,683)rotate(-90)">R408</text><text transform="translate(935.5,683)rotate(-90)">1.5k</text>
<text transform="translate(968,685)rotate(-90)">C407</text><text transform="translate(973.5,685)rotate(-90)">4.7/50</text>
<text transform="translate(983,675)rotate(-90)">R404</text><text transform="translate(989,675)rotate(-90)">12k</text>
<text transform="translate(978.5,722)rotate(-90)">R406</text><text transform="translate(984.5,722)rotate(-90)">1.5k</text>
<text transform="translate(1004,729)rotate(-90)">C408</text><text transform="translate(1010,729)rotate(-90)">NM</text>
<text transform="translate(1054.5,675)rotate(-90)">C409 4.7/50</text>
<text transform="translate(1068.5,712)rotate(-90)">R410 2.2k</text><text transform="translate(1082.5,712)rotate(-90)">R407 NM</text><text transform="translate(1096,712)rotate(-90)">C410 0.015</text><text transform="translate(1109.5,712)rotate(-90)">R408 1.2k</text>
<text transform="translate(1122.5,683)rotate(-90)">C411 22/25</text><text transform="translate(1149,712)rotate(-90)">R409 1M</text><text transform="translate(1163,712)rotate(-90)">R401 10k</text><text transform="translate(1176,712)rotate(-90)">C412 NM</text>
<text transform="translate(396.5,893)rotate(-90)">JR451</text>
<text transform="translate(581.5,1031.7)rotate(-90)">C454</text><text transform="translate(587.5,1031.7)rotate(-90)">4700p</text>
<text transform="translate(471.5,1051)rotate(-90)">R451</text><text transform="translate(477.5,1051)rotate(-90)">47k</text>
<text transform="translate(499.5,1055)rotate(-90)">C455</text>
<text transform="translate(583,921.7)rotate(-90)">C462</text><text transform="translate(588.5,921.7)rotate(-90)">22/16</text><text transform="translate(594,921.7)rotate(-90)">(SL)</text>
<text transform="translate(725,941)rotate(-90)">R464</text>
<text transform="translate(773,839)rotate(-90)">C452</text><text transform="translate(778.5,839)rotate(-90)">0.01</text>
<text transform="translate(798,839)rotate(-90)">C451</text><text transform="translate(803.5,839)rotate(-90)">100/16</text>
<text transform="translate(818.5,825)rotate(-90)">R462</text><text transform="translate(824,825)rotate(-90)">1k</text>
<text transform="translate(819.5,848)rotate(-90)">C461</text><text transform="translate(825,848)rotate(-90)">1μ</text>
<text transform="translate(857.5,823)rotate(-90)">C460</text><text transform="translate(862,823)rotate(-90)">(SL)</text>
<text transform="translate(856.5,845)rotate(-90)">R461</text><text transform="translate(862,845)rotate(-90)">220</text>
<text transform="translate(811,922)rotate(-90)">VCC</text>
<text transform="translate(866,975)rotate(-90)">GND</text>
<text transform="translate(955,950.7)rotate(-90)">R458</text><text transform="translate(961,950.7)rotate(-90)">10k</text>
<text transform="translate(936,985)rotate(-90)">R459</text><text transform="translate(942.5,985)rotate(-90)">220</text>
<text transform="translate(814,1036.7)rotate(-90)">C457</text><text transform="translate(820,1036.7)rotate(-90)">10/50</text>
<text transform="translate(854,1043)rotate(-90)">C453</text><text transform="translate(860,1043)rotate(-90)">10/50(SL)</text>
<text transform="translate(893,1062)rotate(-90)">R457</text><text transform="translate(899,1062)rotate(-90)">1k</text>
<text transform="translate(926,1062)rotate(-90)">C458</text><text transform="translate(932,1062)rotate(-90)">100/10</text><text transform="translate(938,1062)rotate(-90)">(SL)</text>
<text transform="translate(835.5,1085.7)rotate(-90)">R454</text><text transform="translate(841.5,1085.7)rotate(-90)">1k</text>
<text transform="translate(1419,733)rotate(-90)">R434</text><text transform="translate(1425,733)rotate(-90)">47k</text>
<text transform="translate(1444,733)rotate(-90)">C431</text><text transform="translate(1450,733)rotate(-90)">1000p</text>
</g>

<!-- parts table -->
<path class="bw" d="M1032.3 957.7H1223.3V1092.7H1032.3ZM1032.3 966.7H1223.3M1032.3 975.7H1223.3M1032.3 984.7H1223.3M1032.3 993.7H1223.3M1032.3 1002.7H1223.3M1032.3 1011.7H1223.3M1032.3 1020.7H1223.3M1032.3 1029.7H1223.3M1032.3 1038.7H1223.3M1032.3 1047.7H1223.3M1032.3 1056.7H1223.3M1032.3 1065.7H1223.3M1032.3 1074.7H1223.3M1032.3 1083.7H1223.3M1061.7 957.7V1092.7M1088.3 957.7V1092.7M1115.7 957.7V1092.7M1142.7 957.7V1092.7M1169.7 957.7V1092.7M1196.7 957.7V1092.7"/>
<g class="c">
<text y="964"><tspan x="1075">8JP-6</tspan><tspan x="1102">8JP-8</tspan><tspan x="1129">8JP-9</tspan><tspan x="1156.2">8JP-16</tspan><tspan x="1183.2">8JP-17</tspan><tspan x="1210">8JP-19</tspan></text>
<text y="973"><tspan x="1047">JR402</tspan><tspan x="1075">O</tspan><tspan x="1102">O</tspan><tspan x="1129">X</tspan><tspan x="1156.2">O</tspan><tspan x="1183.2">X</tspan><tspan x="1210">X</tspan></text>
<text y="982"><tspan x="1047">JW452</tspan><tspan x="1075">X</tspan><tspan x="1102">X</tspan><tspan x="1129">O</tspan><tspan x="1156.2">X</tspan><tspan x="1183.2">O</tspan><tspan x="1210">O</tspan></text>
<text y="991"><tspan x="1047">R418</tspan><tspan x="1075">390P</tspan><tspan x="1102">X</tspan><tspan x="1129">X</tspan><tspan x="1156.2">4700P</tspan><tspan x="1183.2">X</tspan><tspan x="1210">X</tspan></text>
<text y="1000"><tspan x="1047">C403</tspan><tspan x="1075">O</tspan><tspan x="1102">X</tspan><tspan x="1129">X</tspan><tspan x="1156.2">O</tspan><tspan x="1183.2">X</tspan><tspan x="1210">X</tspan></text>
<text y="1009"><tspan x="1047">CN4401</tspan><tspan x="1075">O</tspan><tspan x="1102">O</tspan><tspan x="1129">X</tspan><tspan x="1156.2">O</tspan><tspan x="1183.2">X</tspan><tspan x="1210">X</tspan></text>
<text y="1018"><tspan x="1047">JR451</tspan><tspan x="1075">X</tspan><tspan x="1102">X</tspan><tspan x="1129">O</tspan><tspan x="1156.2">X</tspan><tspan x="1183.2">O</tspan><tspan x="1210">O</tspan></text>
<text y="1027"><tspan x="1047">JR454</tspan><tspan x="1075">X</tspan><tspan x="1102">X</tspan><tspan x="1129">X</tspan><tspan x="1156.2">O</tspan><tspan x="1183.2">X</tspan><tspan x="1210">X</tspan></text>
<text y="1036"><tspan x="1047">C404</tspan><tspan x="1075">1800P</tspan><tspan x="1102">2200P</tspan><tspan x="1129">X</tspan><tspan x="1156.2">1800P</tspan><tspan x="1183.2">X</tspan><tspan x="1210">X</tspan></text>
<text y="1045"><tspan x="1047">R403</tspan><tspan x="1075">820P</tspan><tspan x="1102">560P</tspan><tspan x="1129">X</tspan><tspan x="1156.2">820P</tspan><tspan x="1183.2">X</tspan><tspan x="1210">X</tspan></text>
<text y="1054"><tspan x="1047">R464</tspan><tspan x="1075">X</tspan><tspan x="1102">X</tspan><tspan x="1129">12K</tspan><tspan x="1156.2">X</tspan><tspan x="1183.2">18K</tspan><tspan x="1210">18K</tspan></text>
<text y="1063"><tspan x="1047">R454</tspan><tspan x="1075">X</tspan><tspan x="1102">X</tspan><tspan x="1129">1.2K</tspan><tspan x="1156.2">X</tspan><tspan x="1183.2">1.5K</tspan><tspan x="1210">1.5K</tspan></text>
<text y="1072"><tspan x="1047">C415</tspan><tspan x="1075">0.027</tspan><tspan x="1102">0.027</tspan><tspan x="1129">X</tspan><tspan x="1156.2">0.018</tspan><tspan x="1183.2">X</tspan><tspan x="1210">X</tspan></text>
<text y="1081"><tspan x="1047">C453</tspan><tspan x="1075">X</tspan><tspan x="1102">X</tspan><tspan x="1129">2200P</tspan><tspan x="1156.2">X</tspan><tspan x="1183.2">1500P</tspan><tspan x="1210">1500P</tspan></text>
<text y="1090"><tspan x="1047">C460</tspan><tspan x="1075">X</tspan><tspan x="1102">X</tspan><tspan x="1129">22/16</tspan><tspan x="1156.2">X</tspan><tspan x="1183.2">10/25</tspan><tspan x="1210">10/25</tspan></text>
</g>
<text x="993.3" y="1041">O:MOUNT</text><text x="993.3" y="1047.7">X:NO MOUNT</text>

<!-- models table -->
<path d="M1266.6 1034.3V1124M1266.6 1034.3H1352M1266.6 1043.3H1352M1266.6 1052.3H1352M1266.6 1061.3H1352M1266.6 1070.3H1352M1266.6 1079.3H1352M1266.6 1088.3H1352M1266.6 1097.3H1352" fill="none" stroke="#555"/>
<path d="M1266.6 1106.2H1352" stroke="#000" stroke-width="1.5"/>
<g>
<text y="1041"><tspan x="1272.4">HV-N155T</tspan><tspan x="1315">(8JP-19ST)</tspan></text>
<text y="1050"><tspan x="1272.4">HV-CX212TH</tspan><tspan x="1315">(8JP-19TH)</tspan></text>
<text y="1059"><tspan x="1272.4">HV-CX515NH</tspan><tspan x="1315">(8JP-17NH)</tspan></text>
<text y="1068"><tspan x="1272.4">HV-CX515TH</tspan><tspan x="1315">(8JP-16TH)</tspan></text>
<text y="1077"><tspan x="1272.4">HV-CX515NH</tspan><tspan x="1315">(8JP-16NH)</tspan></text>
<text y="1086"><tspan x="1272.4">HV-CX717KE</tspan><tspan x="1315">(8JP-9KE)</tspan></text>
<text y="1095"><tspan x="1272.4">HV-CX818KE</tspan><tspan x="1315">(8JP-8KE)</tspan></text>
<text y="1104"><tspan x="1272.4">HV-CX888KE</tspan><tspan x="1315">(8JP-6KE)</tspan></text>
</g>
<text x="1272.4" y="1118" style="font-size:9px;font-weight:bold;fill:#222" textLength="71">USE MODELS</text>
<text x="1655" y="1059">AJIT</text><text x="1617.5" y="1079">AUDIO</text><text x="1581" y="1095" xml:space="preserve">88   JP6   602   01</text><text x="1613" y="1110">QC-88JP6-4-1</text><text x="1520" y="1122">8JP-6</text>
<text x="330" y="1133">B-8JP-6MA-PNO.AU</text>
</svg>
</body></html>
